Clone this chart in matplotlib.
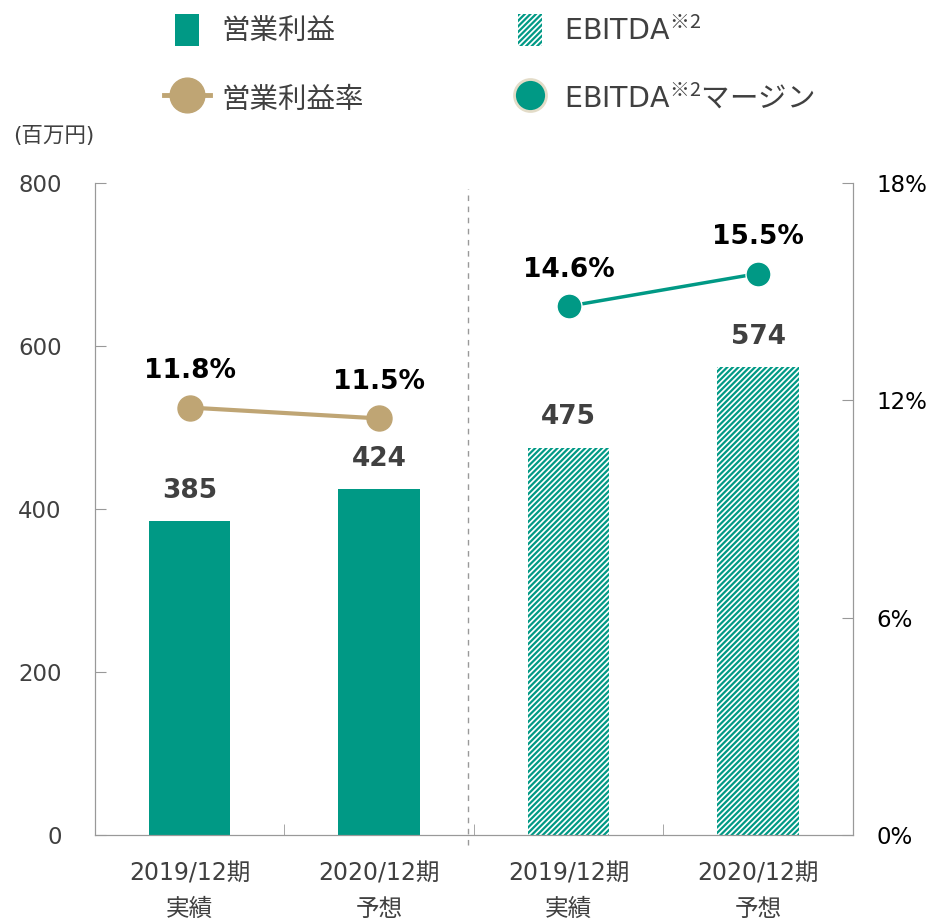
import matplotlib.pyplot as plt
from matplotlib.patches import Patch, Rectangle
from matplotlib.lines import Line2D
from matplotlib.legend_handler import HandlerPatch

plt.rcParams['font.family'] = ['DejaVu Sans', 'Noto Sans CJK JP']
plt.rcParams['mathtext.fontset'] = 'custom'
plt.rcParams['mathtext.rm'] = 'Noto Sans CJK JP'
plt.rcParams['mathtext.it'] = 'Noto Sans CJK JP'
plt.rcParams['hatch.linewidth'] = 1.6

# data
categories = ['2019/12期\n実績', '2020/12期\n予想', '2019/12期\n実績', '2020/12期\n予想']
op_profit = [385, 424]          # 営業利益
ebitda = [475, 574]             # EBITDA
op_margin = [11.8, 11.5]        # 営業利益率
ebitda_margin = [14.6, 15.5]    # EBITDAマージン

teal = '#009985'
gold = '#BFA574'
grey = '#404040'
axis_col = '#999999'

fig = plt.figure(figsize=(9.32, 9.19), dpi=100)
ax = fig.add_axes([0.1019, 0.0914, 0.8133, 0.7095])
ax2 = ax.twinx()

x_op = [0, 1]
x_eb = [2, 3]
w = 0.43

ax.bar(x_op, op_profit, width=w, color=teal, zorder=2)
ax.bar(x_eb, ebitda, width=w, color='white', edgecolor=teal, hatch='//////',
       linewidth=0, zorder=2)

for xi, v in zip(x_op + x_eb, op_profit + ebitda):
    ax.annotate(str(v), (xi, v), xytext=(0, 12.5), textcoords='offset points',
                ha='center', va='bottom', fontsize=19, fontweight='bold', color=grey)

ax2.plot(x_op, op_margin, color=gold, lw=3, marker='o', ms=18, zorder=3)
ax2.plot(x_eb, ebitda_margin, color=teal, lw=2.5, marker='o', ms=18,
         markeredgecolor='white', markeredgewidth=1, zorder=3)
for xi, v in zip(x_op + x_eb, op_margin + ebitda_margin):
    ax2.annotate(f'{v}%', (xi, v), xytext=(0, 17), textcoords='offset points',
                 ha='center', va='bottom', fontsize=19, fontweight='bold', color='black')

ax.set_xlim(-0.5, 3.5)
ax.set_ylim(0, 800)
ax.set_yticks([0, 200, 400, 600, 800])
ax2.set_ylim(0, 18)
ax2.set_yticks([0, 6, 12, 18])
ax2.set_yticklabels(['0%', '6%', '12%', '18%'])

ax.set_xticks([0, 1, 2, 3])
ax.set_xticklabels(categories, fontsize=17, color=grey, linespacing=1.6)
ax.set_xticks([0.5, 1.5, 2.5], minor=True)
ax.tick_params(axis='x', which='major', length=0, pad=19)
ax.tick_params(axis='x', which='minor', direction='in', length=8, color=axis_col)
ax.tick_params(axis='y', direction='in', length=8, color=axis_col, labelsize=16.5,
               labelcolor=grey, pad=24)
ax2.tick_params(axis='y', direction='in', length=8, color=axis_col, labelsize=16.5,
                labelcolor='black', pad=17)

for a in (ax, ax2):
    a.spines['top'].set_visible(False)
    for s in ('left', 'right', 'bottom'):
        a.spines[s].set_color(axis_col)

ax.axvline(1.47, ymin=-0.015, ymax=0.99, color=axis_col, lw=1, ls=(0, (4, 4)),
           clip_on=False, zorder=1)

fig.text(0.014, 0.852, '(百万円)', fontsize=15.5, color=grey, va='center')


def narrow_rect(legend, orig_handle, xdescent, ydescent, width, height, fontsize):
    rw = height * 0.75
    return Rectangle((-xdescent + (width - rw) / 2, -ydescent), rw, height)


handles = [
    Patch(facecolor=teal, edgecolor='none'),
    Line2D([], [], color=gold, lw=3.5, marker='o', ms=25),
    Patch(facecolor='white', edgecolor=teal, hatch='//////', linewidth=0),
    Line2D([], [], color='none', marker='o', ms=23, markerfacecolor=teal,
           markeredgecolor='#E3DCC8', markeredgewidth=2),
]
labels = ['営業利益', '営業利益率', 'EBITDA$^{※2}$', 'EBITDA$^{※2}\\mathrm{マージン}$']
leg = fig.legend(handles, labels, ncol=2, loc='upper left',
                 bbox_to_anchor=(0.176, 0.985), borderaxespad=0, borderpad=0,
                 frameon=False, fontsize=20.5, handlelength=1.6, handleheight=1.38,
                 handletextpad=0.4, labelspacing=1.25, columnspacing=5.05,
                 handler_map={Patch: HandlerPatch(patch_func=narrow_rect)})
for t in leg.get_texts():
    t.set_color(grey)

fig.savefig('out.png', dpi=100)
